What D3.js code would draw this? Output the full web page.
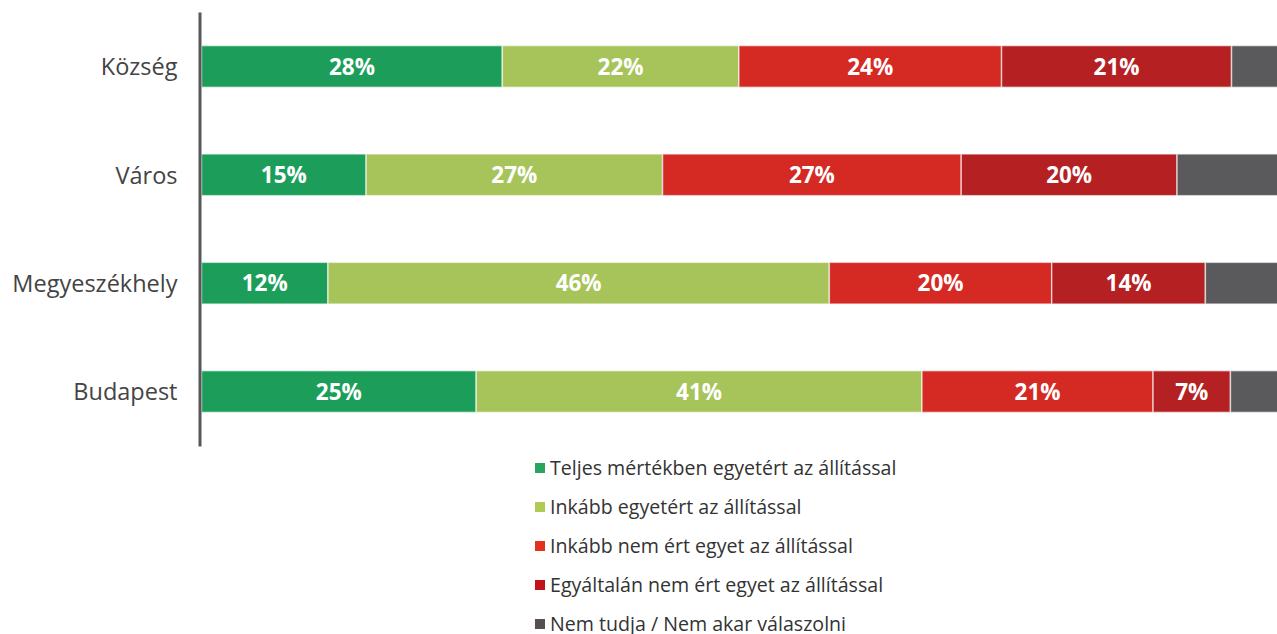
<!DOCTYPE html>
<html><head><meta charset="utf-8">
<script src="https://cdn.jsdelivr.net/npm/d3@7"></script>
<style>html,body{margin:0;padding:0;background:#fff;overflow:hidden}</style>
</head><body><svg id="c" width="1277" height="634"></svg>
<script>
const categories = ["Község", "Város", "Megyeszékhely", "Budapest"];
const seriesNames = [
  "Teljes mértékben egyetért az állítással",
  "Inkább egyetért az állítással",
  "Inkább nem ért egyet az állítással",
  "Egyáltalán nem ért egyet az állítással",
  "Nem tudja / Nem akar válaszolni"
];
const teljes   = [27.6, 15.1, 11.6, 25.2];
const inkabb   = [21.7, 27.2, 46.0, 40.9];
const inkNem   = [24.1, 27.4, 20.4, 21.2];
const egyaltal = [21.1, 19.8, 14.1, 7.1];
const nemTudja = [5.5, 10.5, 7.9, 5.6];
const colors = ["#1c9e5a", "#a6c45a", "#d52924", "#b52023", "#5a5a5c"];
const legendColors = ["#2aa55c", "#b0cb55", "#e2321f", "#c2121b", "#565050"];

const series = [teljes, inkabb, inkNem, egyaltal, nemTudja];
const font = "'Open Sans', sans-serif";
const svg = d3.select("#c");

const x = d3.scaleLinear().domain([0, 100]).range([201.5, 1291.5]);
const y = d3.scaleBand().domain(categories).range([12, 446]).paddingInner(0.615).paddingOuter(0.31);

const rows = categories.map((c, i) => {
  let acc = 0;
  return series.map((s, k) => { const d = {cat: c, k, x0: acc, x1: acc + s[i], v: s[i]}; acc += s[i]; return d; });
});

const g = svg.append("g");
rows.forEach(row => {
  g.selectAll(null).data(row).enter().append("rect")
    .attr("x", d => x(d.x0)).attr("width", d => x(d.x1) - x(d.x0))
    .attr("y", d => y(d.cat)).attr("height", y.bandwidth())
    .attr("fill", d => colors[d.k])
    .attr("stroke", "rgba(255,255,255,0.6)").attr("stroke-width", 1.5);
  g.selectAll(null).data(row.filter(d => d.k < 4)).enter().append("text")
    .attr("x", d => (x(d.x0) + x(d.x1)) / 2)
    .attr("y", d => y(d.cat) + y.bandwidth() / 2)
    .attr("dy", "0.36em").attr("text-anchor", "middle")
    .attr("fill", "#fff").attr("font-family", font).attr("font-weight", 700).attr("font-size", 22.5)
    .text(d => Math.round(d.v) + "%");
});

const yAxis = svg.append("g").attr("transform", "translate(199.5,0)")
  .call(d3.axisLeft(y).tickSize(0).tickPadding(22));
yAxis.select(".domain").attr("stroke", "#58585a").attr("stroke-width", 3);
yAxis.selectAll("text").attr("font-family", font).attr("font-size", 23.5).attr("fill", "#444").attr("dy", "0.38em");

const leg = svg.append("g").attr("transform", "translate(535,0)");
const ly = d3.scalePoint().domain(seriesNames).range([468, 624]);
leg.selectAll("rect").data(seriesNames).enter().append("rect")
  .attr("x", 0).attr("y", d => ly(d) - 5).attr("width", 10).attr("height", 10)
  .attr("fill", (d, i) => legendColors[i]);
leg.selectAll("text").data(seriesNames).enter().append("text")
  .attr("x", 15).attr("y", d => ly(d)).attr("dy", "0.36em")
  .attr("font-family", font).attr("font-size", 19.6).attr("fill", "#333")
  .text(d => d);
</script></body></html>
